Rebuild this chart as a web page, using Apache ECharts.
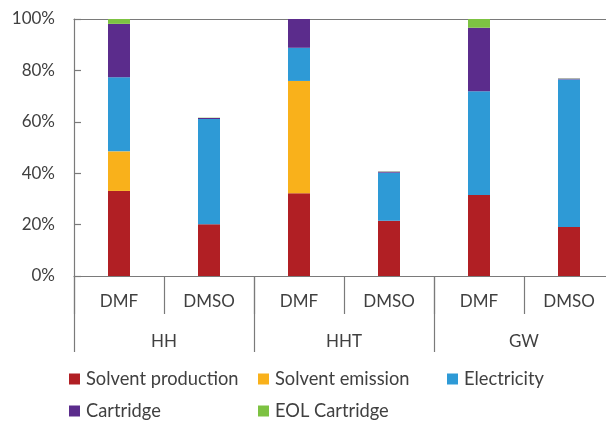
<!DOCTYPE html>
<html>
<head>
<meta charset="utf-8">
<script src="https://cdn.jsdelivr.net/npm/echarts@6/dist/echarts.min.js"></script>
<style>html,body{margin:0;padding:0;background:#fff;overflow:hidden;width:606px;height:421px;}#c{width:620px;height:421px;}</style>
</head>
<body>
<div id="c"></div>
<script>
var solvents = ['DMF', 'DMSO', 'DMF', 'DMSO', 'DMF', 'DMSO'];
var groups = ['HH', 'HHT', 'GW'];
var seriesNames = ['Solvent production', 'Solvent emission', 'Electricity', 'Cartridge', 'EOL Cartridge'];
var solventProduction = [33.1, 20.1, 32.2, 21.5, 31.5, 19.1];
var solventEmission = [15.4, 0, 43.7, 0, 0, 0];
var electricity = [28.8, 41.0, 12.9, 18.7, 40.4, 57.4];
var cartridge = [20.8, 0.4, 11.2, 0.4, 24.7, 0.3];
var eolCartridge = [1.9, 0.1, 0.2, 0.1, 3.4, 0.1];
var yTicks = [0, 20, 40, 60, 80, 100];

var colors = ['#B11F24', '#F9B11B', '#2E9AD6', '#5B2C8C', '#7DC242'];
var values = [solventProduction, solventEmission, electricity, cartridge, eolCartridge];
var font = 'Lato';
var txt = '#404040';
var axisCol = '#7a7a7a';
var legendPos = [[69, 370], [258, 370], [447, 370], [69, 402], [258, 402]];

var chart = echarts.init(document.getElementById('c'), null, {renderer: 'canvas'});
var series = seriesNames.map(function (n, i) {
  return {
    name: n, type: 'bar', stack: 'all', xAxisIndex: 0, yAxisIndex: 0,
    barWidth: 22, data: values[i], itemStyle: {color: colors[i]}
  };
});
var legends = seriesNames.map(function (n, i) {
  return {
    left: legendPos[i][0], top: legendPos[i][1], data: [n], padding: 0,
    itemWidth: 11, itemHeight: 11, icon: 'rect', itemGap: 0,
    textStyle: {fontFamily: font, fontSize: 18.3, color: txt, padding: [0, 0, 0, 1]}, selectedMode: false
  };
});
chart.setOption({
  animation: false,
  color: colors,
  grid: {left: 74, top: 19, width: 540, height: 257, containLabel: false},
  xAxis: [
    {type: 'category', data: solvents, position: 'bottom',
      axisLine: {lineStyle: {color: axisCol, width: 1.2}},
      axisTick: {show: true, length: 38, interval: 0, lineStyle: {color: axisCol, width: 1.2}},
      axisLabel: {margin: 17, fontFamily: font, fontSize: 17, color: txt, interval: 0}},
    {type: 'category', data: groups, position: 'bottom',
      axisLine: {show: false},
      axisTick: {show: true, length: 76, interval: 0, lineStyle: {color: axisCol, width: 1.2}},
      axisLabel: {margin: 57, fontFamily: font, fontSize: 17, color: txt, interval: 0}},
    {type: 'category', data: groups, position: 'top',
      axisLine: {show: true, lineStyle: {color: axisCol, width: 1.2}},
      axisTick: {show: false}, axisLabel: {show: false}}
  ],
  yAxis: {
    type: 'value', min: yTicks[0], max: yTicks[yTicks.length - 1], interval: 20,
    axisLine: {show: true, lineStyle: {color: axisCol, width: 1.2}},
    axisTick: {show: true, inside: true, length: 7, lineStyle: {color: axisCol, width: 1.2}},
    splitLine: {show: false},
    axisLabel: {formatter: '{value}%', margin: 19, fontFamily: font, fontSize: 17, color: txt}
  },
  legend: legends,
  series: series
});
</script>
</body>
</html>
